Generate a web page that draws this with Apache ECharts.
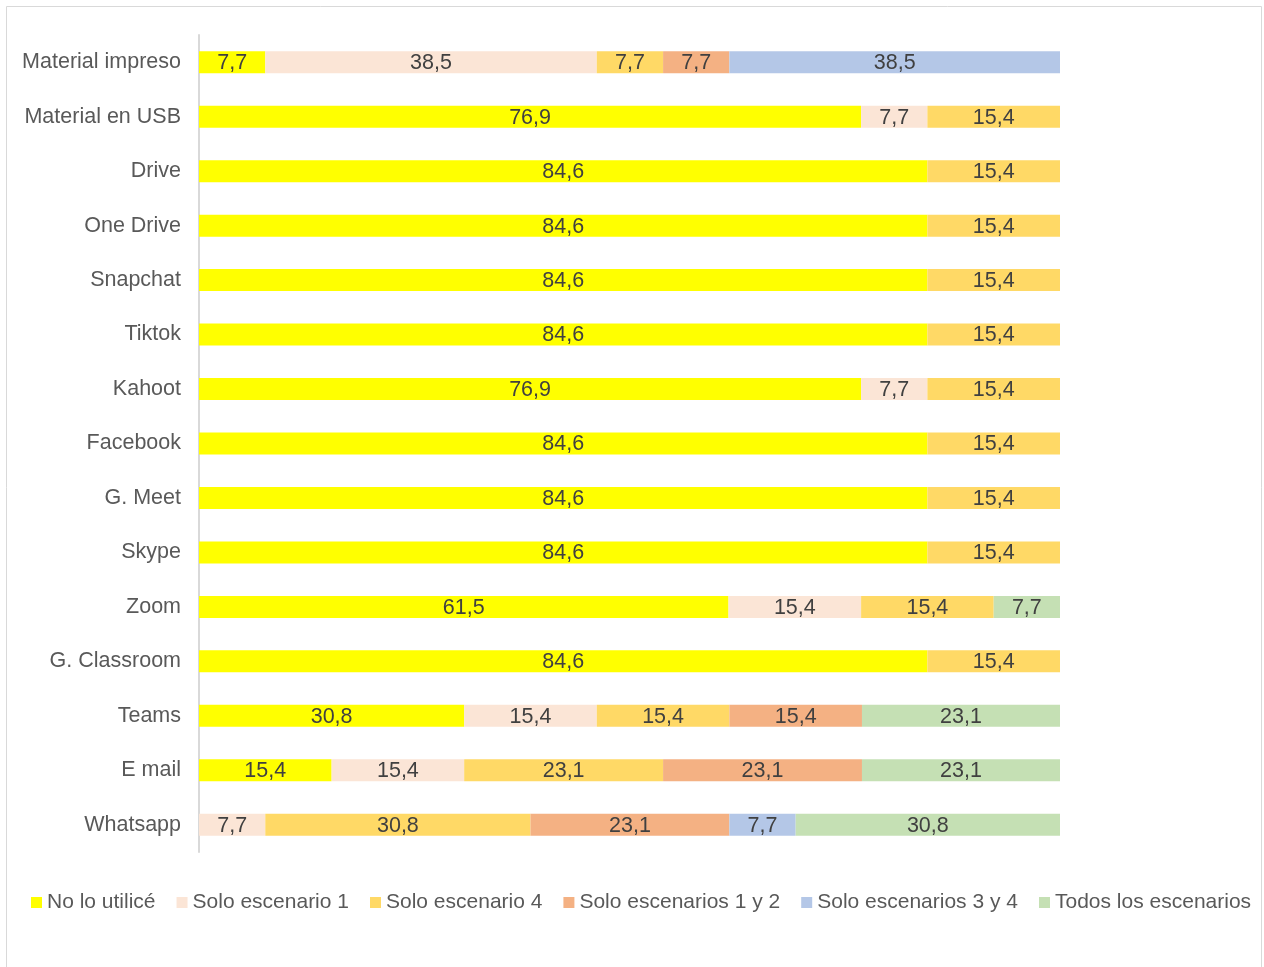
<!DOCTYPE html>
<html>
<head>
    <meta charset="UTF-8">
    <title>Uso de herramientas</title>
    <style type="text/css">
        html, body { margin: 0; padding: 0; background: #fff; }
        #main { width: 1264px; height: 967px; }
    </style>
</head>
<body>
<div id="main"></div>
<script src="https://cdn.jsdelivr.net/npm/echarts@6/dist/echarts.min.js"></script>
<script>
    // categorias de arriba hacia abajo
    var categorias = ['Material impreso', 'Material en USB', 'Drive', 'One Drive', 'Snapchat', 'Tiktok',
        'Kahoot', 'Facebook', 'G. Meet', 'Skype', 'Zoom', 'G. Classroom', 'Teams', 'E mail', 'Whatsapp'];

    var noLoUtilice      = [7.7, 76.9, 84.6, 84.6, 84.6, 84.6, 76.9, 84.6, 84.6, 84.6, 61.5, 84.6, 30.8, 15.4, null];
    var soloEscenario1   = [38.5, 7.7, null, null, null, null, 7.7, null, null, null, 15.4, null, 15.4, 15.4, 7.7];
    var soloEscenario4   = [7.7, 15.4, 15.4, 15.4, 15.4, 15.4, 15.4, 15.4, 15.4, 15.4, 15.4, 15.4, 15.4, 23.1, 30.8];
    var soloEscenarios12 = [7.7, null, null, null, null, null, null, null, null, null, null, null, 15.4, 23.1, 23.1];
    var soloEscenarios34 = [38.5, null, null, null, null, null, null, null, null, null, null, null, null, null, 7.7];
    var todosEscenarios  = [null, null, null, null, null, null, null, null, null, null, 7.7, null, 23.1, 23.1, 30.8];

    var nombres = ['No lo utilicé', 'Solo escenario 1', 'Solo escenario 4', 'Solo escenarios 1 y 2',
        'Solo escenarios 3 y 4', 'Todos los escenarios'];
    var colores = ['#FFFF00', '#FBE5D6', '#FFD966', '#F4B183', '#B4C7E7', '#C5E0B4'];
    var datos = [noLoUtilice, soloEscenario1, soloEscenario4, soloEscenarios12, soloEscenarios34, todosEscenarios];

    var fuente = 'Liberation Sans, Arial, sans-serif';

    var series = datos.map(function (d, i) {
        return {
            name: nombres[i],
            type: 'bar',
            stack: 'total',
            barWidth: 22,
            itemStyle: { color: colores[i] },
            label: {
                show: true,
                position: 'inside',
                offset: [0, 1],
                color: '#404040',
                fontSize: 21.5,
                fontFamily: fuente,
                formatter: function (p) {
                    return p.value == null ? '' : p.value.toFixed(1).replace('.', ',');
                }
            },
            data: d
        };
    });

    var myChart = echarts.init(document.getElementById('main'));
    var option = {
        animation: false,
        textStyle: { fontFamily: fuente },
        graphic: [{
            type: 'rect',
            shape: { x: 6.5, y: 6.5, width: 1255, height: 990 },
            style: { fill: 'none', stroke: '#d9d9d9', lineWidth: 1 },
            silent: true
        }],
        legend: {
            data: nombres,
            top: 887,
            left: 26,
            itemWidth: 11,
            itemHeight: 11,
            itemGap: 21,
            icon: 'rect',
            textStyle: { fontSize: 21, color: '#595959', fontFamily: fuente }
        },
        grid: { left: 199, right: 204, top: 35, bottom: 115 },
        xAxis: {
            type: 'value',
            min: 0,
            max: 100,
            show: false
        },
        yAxis: {
            type: 'category',
            inverse: true,
            data: categorias,
            axisLine: { show: true, lineStyle: { color: '#d9d9d9', width: 2 } },
            axisTick: { show: false },
            axisLabel: { color: '#595959', fontSize: 21.5, fontFamily: fuente, margin: 18 }
        },
        series: series
    };
    myChart.setOption(option);
</script>
</body>
</html>
